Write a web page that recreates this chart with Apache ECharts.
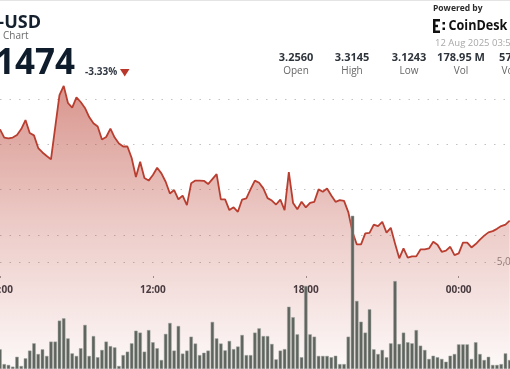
<!DOCTYPE html>
<html>
<head>
<meta charset="utf-8">
<script src="https://cdn.jsdelivr.net/npm/echarts@6/dist/echarts.min.js"></script>
<style>
html,body{margin:0;padding:0;background:#fff;}
#chart{width:510px;height:369px;}
</style>
</head>
<body>
<div id="chart"></div>
<script>
// ---- data ----
const startMinutes = 6 * 60;   // 06:00
const stepMinutes = 10;
const prices = [
  3.2666,3.2573,3.2566,3.2575,3.2603,3.2669,3.2768,3.2625,3.2599,3.2459,
  3.2410,3.2371,3.2334,3.2691,3.3044,3.3145,3.2956,3.2904,3.3017,3.2967,
  3.2901,3.2801,3.2732,3.2696,3.2553,3.2581,3.2674,3.2575,3.2509,3.2476,
  3.2476,3.2349,3.2139,3.2308,3.2128,3.2100,3.2161,3.2242,3.2180,3.2087,
  3.1957,3.1996,3.1894,3.1935,3.1830,3.2070,3.2100,3.2100,3.2098,3.2062,
  3.2117,3.2172,3.1894,3.1893,3.1775,3.1805,3.1756,3.1891,3.1904,3.2007,
  3.2100,3.2076,3.2014,3.1907,3.1880,3.1836,3.1891,3.1775,3.2194,3.1852,
  3.1783,3.1866,3.1805,3.1855,3.1866,3.2003,3.1977,3.2012,3.1935,3.1866,
  3.1885,3.1877,3.1753,3.1532,3.1396,3.1396,3.1518,3.1524,3.1615,3.1598,
  3.1646,3.1527,3.1579,3.1407,3.1243,3.1352,3.1250,3.1264,3.1264,3.1341,
  3.1342,3.1352,3.1425,3.1392,3.1315,3.1328,3.1370,3.1278,3.1297,3.1416,
  3.1416,3.1363,3.1400,3.1449,3.1493,3.1529,3.1543,3.1568,3.1598,3.1615,
  3.1659
];
// volume per 10-minute bar, in millions
const volumes = [
  0.92,0.23,0.19,0.11,0.57,0.14,0.50,0.86,1.20,0.70,
  0.92,0.61,1.28,1.28,2.26,2.37,1.43,0.73,0.61,0.97,
  2.06,0.61,1.54,0.55,0.89,1.28,1.07,1.01,0.14,0.65,
  0.81,1.20,1.79,1.70,0.81,1.82,1.25,0.97,0.42,1.64,
  2.15,0.86,2.01,0.72,0.86,1.51,1.19,0.65,0.76,0.86,
  2.20,1.43,1.19,0.87,1.31,0.93,1.05,1.59,0.65,0.65,
  1.70,1.90,1.54,1.54,1.17,0.45,0.86,0.93,2.91,2.42,
  1.62,0.55,3.88,1.62,1.51,0.61,0.61,0.61,0.55,0.62,
  0.23,0.23,1.51,7.16,3.18,2.21,1.70,2.79,0.92,0.70,
  0.89,0.55,1.20,4.11,1.17,1.70,1.25,1.20,1.82,1.09,
  0.89,0.47,0.62,0.55,0.47,0.34,0.62,0.70,1.15,1.15,
  1.15,0.47,1.25,0.70,0.42,0.57,0.19,0.19,0.23,0.73,
  0.42
];
const tickLabels = ['06:00', '12:00', '18:00', '00:00'];
const stats = [
  { value: '3.2560', label: 'Open' },
  { value: '3.3145', label: 'High' },
  { value: '3.1243', label: 'Low' },
  { value: '178.95 M', label: 'Vol' },
  { value: '572.64 M', label: 'Vol (USD)' }
];

function pad(n){ return (n < 10 ? '0' : '') + n; }
const times = prices.map(function (_, i) {
  const m = (startMinutes + i * stepMinutes) % (24 * 60);
  return pad(Math.floor(m / 60)) + ':' + pad(m % 60);
});

// ---- chart ----
const chart = echarts.init(document.getElementById('chart'), null, { renderer: 'canvas' });
const FONT = '"Open Sans", "Noto Sans", sans-serif';
const dotted = { type: [1.5, 8], color: '#c2c2c2', width: 1.2 };
const isTick = function (idx, val) { return tickLabels.indexOf(val) >= 0; };

const statX = [296, 352, 409, 461, 523];
const graphics = [
  { type: 'line', shape: { x1: 0, y1: 0.5, x2: 510, y2: 0.5 }, style: { stroke: '#e4e4e4', lineWidth: 1 } },
  { type: 'text', x: 41, y: 23, style: { text: 'XRP-USD', font: 'bold 18px ' + FONT, fill: '#14202e', align: 'right', verticalAlign: 'middle' } },
  { type: 'text', x: 3, y: 36.5, style: { text: 'Chart', font: '10px ' + FONT, fill: '#6b6b6b', align: 'left', verticalAlign: 'middle' } },
  { type: 'text', x: 75, y: 64, style: { text: '3.1474', font: 'bold 35px ' + FONT, fill: '#0f1c2b', align: 'right', verticalAlign: 'middle' } },
  { type: 'text', x: 85, y: 72, style: { text: '-3.33%', font: 'bold 10px ' + FONT, fill: '#333a44', align: 'left', verticalAlign: 'middle' } },
  { type: 'polygon', shape: { points: [[120, 69], [129.5, 69], [124.75, 76.5]] }, style: { fill: '#b8362a' } },
  { type: 'text', x: 433, y: 9, style: { text: 'Powered by', font: 'bold 8.5px ' + FONT, fill: '#2b2b2b', align: 'left', verticalAlign: 'middle' } },
  // CoinDesk mark
  { type: 'rect', shape: { x: 433, y: 19, width: 2.5, height: 14 }, style: { fill: '#111' } },
  { type: 'rect', shape: { x: 433, y: 19, width: 7, height: 2.5 }, style: { fill: '#111' } },
  { type: 'rect', shape: { x: 433, y: 30.5, width: 7, height: 2.5 }, style: { fill: '#111' } },
  { type: 'rect', shape: { x: 433, y: 24.8, width: 5, height: 2.4 }, style: { fill: '#111' } },
  { type: 'rect', shape: { x: 442.5, y: 22, width: 2.5, height: 2.5 }, style: { fill: '#111' } },
  { type: 'rect', shape: { x: 442.5, y: 27.5, width: 2.5, height: 2.5 }, style: { fill: '#111' } },
  { type: 'text', x: 448.5, y: 26, scaleX: 0.84, style: { text: 'CoinDesk', font: 'bold 15px ' + FONT, fill: '#111', align: 'left', verticalAlign: 'middle' } },
  { type: 'text', x: 435, y: 43.5, style: { text: '12 Aug 2025 03:57', font: '9.5px ' + FONT, fill: '#a8a8a8', align: 'left', verticalAlign: 'middle' } }
];
stats.forEach(function (s, k) {
  graphics.push({ type: 'text', x: statX[k], y: 57.5, style: { text: s.value, font: 'bold 11px ' + FONT, fill: '#2e343b', align: 'center', verticalAlign: 'middle' } });
  graphics.push({ type: 'text', x: statX[k], y: 71, style: { text: s.label, font: '10px ' + FONT, fill: '#666', align: 'center', verticalAlign: 'middle' } });
});

const option = {
  animation: false,
  backgroundColor: '#ffffff',
  textStyle: { fontFamily: FONT },
  grid: [
    { left: 0, right: 0.3, top: 99, height: 136, containLabel: false, outerBoundsMode: 'none' },
    { left: 0, right: 0.3, top: 262, bottom: 0, containLabel: false, outerBoundsMode: 'none' }
  ],
  xAxis: [
    {
      type: 'category', gridIndex: 0, data: times, boundaryGap: false,
      offset: 41,
      axisLine: { show: false },
      axisTick: { show: true, length: 2, interval: isTick, lineStyle: { color: '#999' } },
      axisLabel: { interval: isTick, margin: 9, fontSize: 10, fontWeight: 'bold', color: '#333b44', fontFamily: FONT },
      splitLine: { show: false }
    },
    {
      type: 'category', gridIndex: 1, data: times, boundaryGap: false, show: false
    }
  ],
  yAxis: [
    {
      type: 'value', gridIndex: 0, min: 3.15, max: 3.30, interval: 0.05,
      axisLine: { show: false }, axisTick: { show: false }, axisLabel: { show: false },
      splitLine: { show: true, lineStyle: dotted }
    },
    {
      type: 'value', gridIndex: 1, min: 0, max: 5, interval: 5, position: 'right',
      axisLine: { show: false }, axisTick: { show: false },
      axisLabel: {
        inside: true, align: 'left', margin: 13, showMinLabel: false,
        fontSize: 10, color: '#8a8a8a', fontFamily: FONT,
        formatter: function (v) { return (v * 1e6).toLocaleString('en-US'); }
      },
      splitLine: { show: true, lineStyle: dotted }
    }
  ],
  graphic: graphics,
  series: [
    {
      type: 'line', xAxisIndex: 0, yAxisIndex: 0, data: prices,
      showSymbol: false, clip: false, z: 2,
      lineStyle: { color: '#b93e30', width: 1.8 },
      areaStyle: {
        origin: 2.99,
        color: new echarts.graphic.LinearGradient(0, 0, 0, 1, [
          { offset: 0, color: 'rgba(185,62,48,0.78)' },
          { offset: 0.45, color: 'rgba(185,62,48,0.40)' },
          { offset: 1, color: 'rgba(185,62,48,0.02)' }
        ])
      }
    },
    {
      type: 'bar', xAxisIndex: 1, yAxisIndex: 1, data: volumes,
      barWidth: 3.4, clip: false, z: 3,
      itemStyle: { color: '#5e645e', borderColor: '#9ea39e', borderWidth: 0.5 }
    }
  ]
};
chart.setOption(option);
</script>
</body>
</html>
